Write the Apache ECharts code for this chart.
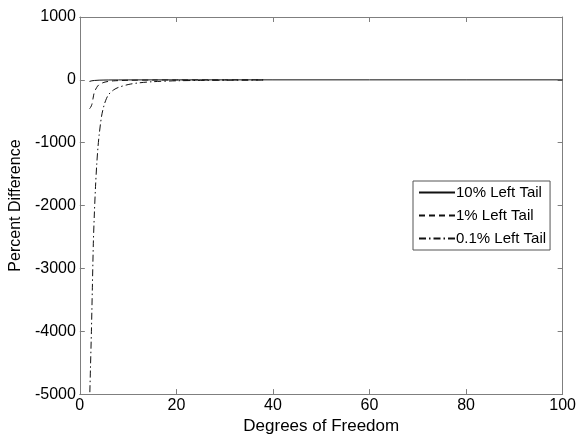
<!DOCTYPE html>
<html>
<head>
<meta charset="utf-8">
<script src="https://cdn.jsdelivr.net/npm/echarts@6/dist/echarts.min.js"></script>
<style>
html,body{margin:0;padding:0;background:#fff;}
#chart{width:579px;height:440px;}
</style>
</head>
<body>
<div id="chart"></div>
<script>
// Data
var seriesNames = ['10% Left Tail', '1% Left Tail', '0.1% Left Tail'];
var tail10_df = [2, 2.5, 3, 4, 5, 6, 8, 10, 15, 20, 30, 40, 60, 80, 100];
var tail10_val = [-25, -15, -10, -5, -3, -2, -1.2, -1, -0.5, -0.3, -0.2, -0.1, 0, 0, 0];
var tail1_df = [2, 2.25, 2.5, 2.75, 3, 3.5, 4, 5, 6, 7, 8, 10, 15, 20, 30, 38];
var tail1_val = [-460, -435, -390, -290, -200, -120, -75, -40, -24, -16, -12, -7, -3, -2, -1, -0.5];
var tail01_df = [2, 2.2, 2.4, 2.6, 2.8, 3, 3.25, 3.5, 3.75, 4, 4.5, 5, 5.5, 6, 7, 8, 10, 12, 15, 20, 25, 30, 35, 38];
var tail01_val = [-5200, -4600, -4000, -3300, -2600, -2150, -1700, -1350, -1080, -880, -580, -410, -300, -230, -160, -120, -75, -50, -30, -15, -9, -6, -4, -3];
var xTicks = [0, 20, 40, 60, 80, 100];
var yTicks = [-5000, -4000, -3000, -2000, -1000, 0, 1000];

function pairs(xs, ys) { return xs.map(function (x, i) { return [x, ys[i]]; }); }

var axisColor = '#7f7f7f';
var font = 'Liberation Sans, Arial, sans-serif';
function plain(v) { return String(v); }
var chart = echarts.init(document.getElementById('chart'), null, {renderer: 'canvas'});
chart.setOption({
  animation: false,
  backgroundColor: '#fff',
  grid: {left: 76, right: 14.5, top: 17, bottom: 37, containLabel: false},
  legend: {
    orient: 'vertical',
    left: 413, top: 181,
    padding: [4, 4, 4, 5],
    itemGap: 8,
    itemWidth: 36,
    itemHeight: 16,
    borderColor: '#555',
    borderWidth: 1,
    backgroundColor: '#fff',
    data: seriesNames,
    itemStyle: {opacity: 0},
    textStyle: {fontFamily: font, fontSize: 15, color: '#000', padding: [0, 0, 0, -4]}
  },
  xAxis: [{
    type: 'value', min: xTicks[0], max: xTicks[xTicks.length - 1], interval: 20,
    name: 'Degrees of Freedom', nameLocation: 'middle', nameGap: 20,
    nameTextStyle: {fontFamily: font, fontSize: 17, color: '#000'},
    axisLine: {show: true, onZero: false, lineStyle: {color: axisColor, width: 1}},
    axisTick: {show: true, inside: true, length: 5, lineStyle: {color: axisColor}},
    axisLabel: {fontFamily: font, fontSize: 16, color: '#000', margin: 3, formatter: plain},
    splitLine: {show: false}
  }, {
    type: 'value', position: 'top', min: 0, max: 100, interval: 20,
    axisLine: {show: true, onZero: false, lineStyle: {color: axisColor, width: 1}},
    axisTick: {show: true, inside: true, length: 5, lineStyle: {color: axisColor}},
    axisLabel: {show: false}, splitLine: {show: false}
  }],
  yAxis: [{
    type: 'value', min: yTicks[0], max: yTicks[yTicks.length - 1], interval: 1000,
    name: 'Percent Difference', nameLocation: 'middle', nameGap: 51, nameRotate: 90,
    nameTextStyle: {fontFamily: font, fontSize: 16, color: '#000'},
    axisLine: {show: true, onZero: false, lineStyle: {color: axisColor, width: 1}},
    axisTick: {show: true, inside: true, length: 5, lineStyle: {color: axisColor}},
    axisLabel: {fontFamily: font, fontSize: 16, color: '#000', margin: 4, formatter: plain},
    splitLine: {show: false}
  }, {
    type: 'value', position: 'right', min: -5000, max: 1000, interval: 1000,
    axisLine: {show: true, onZero: false, lineStyle: {color: axisColor, width: 1}},
    axisTick: {show: true, inside: true, length: 5, lineStyle: {color: axisColor}},
    axisLabel: {show: false}, splitLine: {show: false}
  }],
  series: [{
    name: seriesNames[0], type: 'line', showSymbol: false, symbol: 'none', smooth: false,
    data: pairs(tail10_df, tail10_val), clip: true,
    lineStyle: {color: '#111', width: 1, type: 'solid'}, itemStyle: {color: '#111'}
  }, {
    name: seriesNames[1], type: 'line', showSymbol: false, symbol: 'none', smooth: 0.3,
    data: pairs(tail1_df, tail1_val), clip: true,
    lineStyle: {color: '#111', width: 1, type: [6, 4]}, itemStyle: {color: '#111'}
  }, {
    name: seriesNames[2], type: 'line', showSymbol: false, symbol: 'none', smooth: 0.3,
    data: pairs(tail01_df, tail01_val), clip: true,
    lineStyle: {color: '#111', width: 1, type: [7, 3, 1.5, 3]}, itemStyle: {color: '#111'}
  }]
});
</script>
</body>
</html>
